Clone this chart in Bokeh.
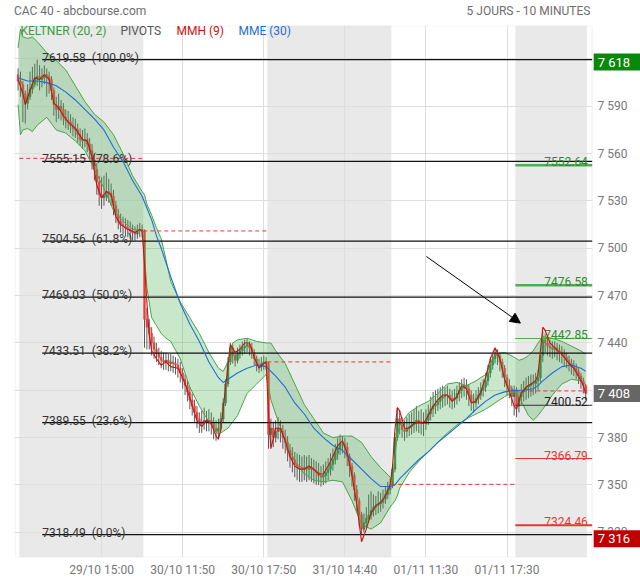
from bokeh.plotting import figure
from bokeh.models import (FixedTicker, BoxAnnotation, Label, Arrow, NormalHead,
                          Range1d, ColumnDataSource, LinearAxis)
from bokeh.core.properties import value
from bokeh.embed import file_html
from bokeh.resources import INLINE

FONT = "Roboto"

# ---------------- data (10-minute bars, index = bar number) ----------------
first_open = 7610
closes = [
    7606, 7604, 7598, 7592, 7596, 7601, 7604, 7608, 7609, 7607,
    7608, 7610, 7609, 7607, 7600, 7591, 7588, 7590, 7588, 7583,
    7581, 7580, 7578, 7576, 7575, 7572, 7569, 7568, 7569, 7566,
    7562, 7556, 7550, 7542, 7534, 7532, 7533, 7536, 7535, 7533,
    7527, 7521, 7517, 7515, 7514, 7513, 7512, 7511, 7510, 7509,
    7511, 7512, 7511,
    7455, 7450, 7446, 7440, 7436, 7433, 7431, 7429, 7428, 7429,
    7427, 7428, 7427, 7426, 7424, 7421, 7417, 7413, 7409, 7404,
    7400, 7396, 7392, 7389, 7390, 7391, 7390, 7391, 7389, 7386,
    7384, 7386, 7392, 7402, 7414, 7428, 7437, 7432, 7429, 7433,
    7435, 7437, 7438, 7439, 7437, 7434, 7430, 7426, 7425, 7427,
    7428, 7427,
    7382, 7386, 7380, 7384, 7386, 7384, 7380, 7377, 7372, 7368,
    7366, 7363, 7362, 7361, 7360, 7361, 7360, 7361, 7360, 7359,
    7358, 7356, 7355, 7356, 7358, 7360, 7363, 7366, 7370, 7373,
    7376, 7376, 7374, 7368, 7362, 7356, 7347, 7340, 7331, 7322,
    7326, 7329, 7331, 7334, 7336, 7337, 7338, 7339, 7341, 7344,
    7347, 7350,
    7360, 7380, 7392, 7388, 7385, 7384, 7386, 7387, 7388, 7389,
    7391, 7389, 7390, 7389, 7391, 7395, 7398, 7400, 7401, 7403,
    7405, 7406, 7407, 7407, 7405, 7404, 7405, 7408, 7410, 7412,
    7413, 7411, 7407, 7403, 7402, 7405, 7407, 7410, 7412, 7416,
    7421, 7426, 7430, 7433, 7432, 7428, 7424, 7418, 7413, 7411,
    7406, 7410,
    7400, 7406, 7409, 7410, 7412, 7413, 7414, 7414, 7416, 7418,
    7432, 7442, 7440, 7438, 7437, 7436, 7437, 7435, 7434, 7433,
    7431, 7429, 7427, 7425, 7424, 7422, 7419, 7416, 7413, 7408,
]
highs = [
    7614, 7612, 7606, 7600, 7604, 7612, 7615, 7617, 7619.6, 7616,
    7614, 7616, 7614, 7612, 7609, 7602, 7596, 7598, 7594, 7592,
    7588, 7587, 7585, 7583, 7582, 7579, 7576, 7575, 7576, 7573,
    7570, 7566, 7560, 7554, 7546, 7545, 7546, 7548, 7544, 7541,
    7537, 7530, 7525, 7522, 7520, 7519, 7518, 7517, 7515, 7514,
    7515, 7516, 7515,
    7512, 7462, 7455, 7450, 7444, 7440, 7437, 7435, 7434, 7434,
    7433, 7433, 7432, 7431, 7430, 7428, 7424, 7420, 7416, 7412,
    7408, 7404, 7400, 7396, 7397, 7399, 7397, 7398, 7396, 7393,
    7391, 7392, 7396, 7405, 7417, 7431, 7440, 7439, 7435, 7437,
    7439, 7441, 7442, 7443, 7441, 7440, 7436, 7432, 7430, 7431,
    7432, 7431,
    7428, 7392, 7390, 7391, 7393, 7391, 7388, 7385, 7381, 7376,
    7374, 7371, 7370, 7369, 7368, 7369, 7368, 7369, 7367, 7366,
    7365, 7364, 7362, 7363, 7365, 7367, 7370, 7373, 7376, 7380,
    7382, 7381, 7380, 7377, 7370, 7364, 7358, 7350, 7342, 7333,
    7332, 7336, 7344, 7346, 7344, 7343, 7346, 7345, 7347, 7349,
    7352, 7354,
    7363, 7383, 7399, 7397, 7393, 7391, 7393, 7395, 7396, 7398,
    7400, 7397, 7398, 7396, 7398, 7401, 7406, 7409, 7410, 7411,
    7412, 7413, 7412, 7413, 7411, 7410, 7411, 7413, 7415, 7417,
    7418, 7417, 7414, 7410, 7408, 7410, 7412, 7415, 7417, 7421,
    7426, 7431, 7434, 7436, 7436, 7434, 7430, 7426, 7420, 7417,
    7413, 7413,
    7412, 7410, 7414, 7416, 7418, 7419, 7420, 7420, 7421, 7423,
    7435, 7447, 7446, 7444, 7442, 7441, 7441, 7440, 7439, 7438,
    7436, 7434, 7432, 7430, 7429, 7427, 7424, 7421, 7418, 7414,
]
lows = [
    7600, 7596, 7580, 7579, 7588, 7594, 7598, 7602, 7603, 7600,
    7602, 7604, 7596, 7598, 7594, 7584, 7580, 7582, 7581, 7578,
    7576, 7575, 7573, 7571, 7570, 7567, 7565, 7563, 7564, 7561,
    7557, 7550, 7543, 7534, 7527, 7525, 7527, 7530, 7529, 7527,
    7521, 7516, 7512, 7510, 7509, 7508, 7507, 7506, 7505, 7505,
    7506, 7507, 7507,
    7437, 7436, 7436, 7432, 7430, 7428, 7426, 7424, 7423, 7423,
    7422, 7422, 7421, 7420, 7418, 7415, 7411, 7407, 7403, 7398,
    7394, 7390, 7386, 7383, 7383, 7385, 7384, 7384, 7382, 7379,
    7378, 7379, 7384, 7390, 7400, 7412, 7426, 7427, 7425, 7427,
    7430, 7432, 7433, 7434, 7432, 7430, 7426, 7422, 7421, 7422,
    7423, 7423,
    7373, 7376, 7374, 7377, 7379, 7377, 7373, 7370, 7365, 7361,
    7358, 7355, 7353, 7352, 7352, 7353, 7352, 7353, 7352, 7351,
    7350, 7350, 7349, 7350, 7351, 7353, 7356, 7359, 7363, 7366,
    7369, 7370, 7367, 7362, 7355, 7349, 7340, 7333, 7324, 7318.5,
    7320, 7323, 7326, 7328, 7330, 7331, 7332, 7333, 7335, 7338,
    7341, 7344,
    7348, 7358, 7378, 7382, 7380, 7378, 7380, 7381, 7382, 7383,
    7384, 7383, 7382, 7381, 7385, 7388, 7391, 7393, 7395, 7397,
    7398, 7399, 7400, 7401, 7399, 7398, 7399, 7401, 7403, 7405,
    7406, 7404, 7400, 7397, 7396, 7399, 7401, 7404, 7406, 7409,
    7413, 7418, 7423, 7427, 7426, 7422, 7418, 7412, 7407, 7405,
    7400, 7394,
    7393, 7396, 7401, 7403, 7404, 7405, 7406, 7407, 7408, 7410,
    7415, 7428, 7434, 7432, 7431, 7430, 7431, 7429, 7428, 7427,
    7425, 7424, 7422, 7420, 7419, 7417, 7414, 7411, 7408, 7404,
]

# Keltner (20, 2) channel
kelt_x = [0, 1, 2, 4, 6, 8, 12, 16, 20, 24, 28, 32, 36, 40, 44, 48, 52, 53, 54, 56,
          58, 60, 62, 64, 68, 72, 76, 80, 84, 86, 88, 90, 92, 96, 100, 104, 105, 106, 108, 112,
          116, 120, 124, 128, 132, 136, 140, 144, 148, 152, 156, 157, 158, 159, 160, 164, 168, 172, 176, 180,
          184, 188, 192, 196, 200, 204, 208, 210, 212, 214, 216, 218, 220, 224, 228, 232, 236, 238]
kelt_up = [7627, 7639, 7634, 7633, 7634, 7631, 7624, 7619, 7613, 7603, 7593, 7585, 7580, 7572, 7560, 7546, 7536, 7534, 7528, 7521,
           7513, 7506, 7493, 7479, 7466, 7456, 7446, 7434, 7424, 7422, 7428, 7440, 7442, 7443, 7441, 7440, 7440, 7440, 7435, 7427,
           7414, 7401, 7392, 7383, 7380, 7381, 7381, 7377, 7368, 7361, 7355, 7353, 7368, 7382, 7388, 7396, 7400, 7403, 7408, 7414,
           7415, 7413, 7416, 7420, 7433, 7434, 7431, 7429, 7430, 7432, 7435, 7440, 7444, 7443, 7441, 7438, 7435, 7433]
kelt_lo = [7591, 7572, 7575, 7576, 7574, 7578, 7583, 7575, 7573, 7568, 7562, 7550, 7538, 7524, 7517, 7512, 7511, 7495, 7475, 7456,
           7451, 7446, 7443, 7441, 7430, 7412, 7400, 7390, 7382, 7384, 7386, 7390, 7394, 7408, 7414, 7420, 7412, 7404, 7395, 7378,
           7365, 7357, 7353, 7352, 7353, 7352, 7340, 7325, 7322, 7326, 7336, 7338, 7340, 7343, 7348, 7358, 7365, 7371, 7377, 7383,
           7388, 7392, 7395, 7398, 7402, 7406, 7409, 7406, 7400, 7394, 7391, 7394, 7398, 7407, 7414, 7417, 7416, 7414]

# MME (30)
mme_x = [0, 4, 8, 12, 16, 20, 24, 28, 32, 36, 40, 44, 48, 52, 56, 58, 60, 64, 68, 72,
         76, 80, 84, 86, 88, 92, 96, 100, 104, 108, 112, 116, 120, 124, 128, 132, 136, 140, 144, 148,
         152, 156, 158, 160, 164, 168, 172, 176, 180, 184, 188, 192, 196, 200, 204, 208, 212, 216, 218, 220,
         224, 228, 232, 236, 238]
mme_y = [7608, 7606, 7606, 7605, 7603, 7599, 7594, 7588, 7582, 7575, 7564, 7555, 7543, 7533, 7518, 7508, 7500, 7482, 7465, 7452,
         7441, 7428, 7418, 7415, 7417, 7421, 7424, 7426, 7425, 7419, 7412, 7402, 7395, 7386, 7380, 7375, 7372, 7366, 7360, 7354,
         7349, 7349, 7350, 7354, 7360, 7366, 7371, 7377, 7382, 7387, 7392, 7398, 7403, 7407, 7409, 7410, 7410, 7411, 7413, 7416,
         7421, 7425, 7426, 7424, 7422]

# MMH (9)
mmh_x = [0, 2, 3, 5, 7, 9, 11, 13, 15, 17, 19, 21, 24, 27, 29, 31, 33, 35, 37, 39,
         41, 43, 46, 49, 51, 52, 53, 54, 55, 56, 58, 60, 62, 64, 67, 69, 71, 73, 75, 77,
         79, 81, 83, 84, 85, 87, 89, 91, 93, 95, 97, 99, 101, 103, 104, 105, 106, 108, 110, 112,
         114, 116, 118, 120, 122, 124, 126, 128, 130, 132, 134, 136, 138, 140, 142, 144, 146, 148, 150, 152,
         154, 156, 157, 158, 159, 160, 162, 164, 166, 168, 170, 172, 174, 176, 178, 180, 182, 184, 186, 188,
         190, 192, 194, 196, 198, 200, 202, 204, 206, 208, 209, 211, 213, 215, 217, 218, 219, 220, 221, 223,
         225, 227, 229, 231, 233, 235, 237, 238]
mmh_y = [7607, 7598, 7591, 7600, 7608, 7607, 7610, 7607, 7592, 7589, 7584, 7580, 7576, 7569, 7568, 7558, 7540, 7532, 7536, 7534,
         7520, 7515, 7512, 7510, 7512, 7511, 7490, 7466, 7445, 7435, 7430, 7426, 7428, 7425, 7424, 7418, 7410, 7400, 7391, 7387,
         7391, 7389, 7381, 7379, 7385, 7412, 7439, 7434, 7436, 7440, 7440, 7431, 7424, 7427, 7428, 7395, 7373, 7386, 7386, 7378,
         7368, 7362, 7360, 7360, 7362, 7360, 7357, 7357, 7362, 7368, 7375, 7378, 7370, 7356, 7338, 7314, 7322, 7332, 7337, 7339,
         7343, 7350, 7362, 7385, 7399, 7397, 7386, 7386, 7389, 7390, 7389, 7394, 7400, 7404, 7407, 7407, 7403, 7406, 7413, 7411,
         7402, 7403, 7409, 7418, 7430, 7437, 7430, 7417, 7409, 7400, 7398, 7408, 7412, 7414, 7416, 7420, 7435, 7450, 7448, 7440,
         7437, 7434, 7431, 7427, 7424, 7419, 7413, 7408]

# sessions (first bar of each day) and pivots
day_starts = [1, 53, 105, 157, 209]
grey_days = [0, 2, 4]
day_pivot = [7557.0, 7511.0, 7428.0, 7350.4, 7409.6]

fib_levels = [7619.58, 7555.15, 7504.56, 7469.03, 7433.51, 7389.55, 7318.49]
fib_pcts = ["100.0%", "78.6%", "61.8%", "50.0%", "38.2%", "23.6%", "0.0%"]

piv_levels = [7552.64, 7476.58, 7442.85, 7400.52, 7366.79, 7324.46]
piv_colors = ["#4caf50", "#4caf50", "#4caf50", "#333333", "#e53935", "#e53935"]
piv_text_colors = ["#2e8b2e", "#2e8b2e", "#2e8b2e", "#222222", "#e53935", "#e53935"]
piv_widths = [2.5, 2.5, 1, 1, 1, 2]

x_tick_pos = [35, 69, 103, 137, 171, 205]
x_tick_labels = ["29/10 15:00", "30/10 11:50", "30/10 17:50", "31/10 14:40", "01/11 11:30", "01/11 17:30"]
y_ticks = [7320, 7350, 7380, 7410, 7440, 7470, 7500, 7530, 7560, 7590, 7620]

last_price = 7408
period_high = 7618
period_low = 7316

header_left = "CAC 40 - abcbourse.com"
header_right = "5 JOURS - 10 MINUTES"

# ---------------- figure ----------------
XL, XR = -1.51, 260.97          # full frame (extends under the right price-tag column)
X0, X1 = -1.38, 240.71          # visible plot area
Y0, Y1 = 7304.05, 7641.2

p = figure(width=640, height=580, x_range=Range1d(XL, XR), y_range=Range1d(Y0, Y1),
           y_axis_location="right", toolbar_location=None, output_backend="svg",
           min_border_left=14, min_border_top=22, min_border_right=0, min_border_bottom=23,
           background_fill_color="white", border_fill_color="white",
           outline_line_color=None)

xt = FixedTicker(ticks=x_tick_pos)
yt = FixedTicker(ticks=y_ticks)
p.xaxis.ticker = xt
p.xgrid.ticker = xt
p.yaxis.ticker = yt
p.ygrid.ticker = yt
p.xaxis.major_label_overrides = {t: l for t, l in zip(x_tick_pos, x_tick_labels)}
p.yaxis.major_label_overrides = {t: f"{t // 1000} {t % 1000:03d}" for t in y_ticks}
for ax in (p.xaxis, p.yaxis):
    ax.axis_line_color = None
    ax.major_tick_line_color = None
    ax.minor_tick_line_color = None
    ax.major_tick_out = 0
    ax.minor_tick_out = 0
    ax.major_label_text_color = "#777777"
    ax.major_label_text_font = FONT
    ax.major_label_text_font_size = "12px"
p.xaxis.major_label_standoff = 5
p.yaxis.major_label_standoff = -43
p.xgrid.grid_line_color = "#dedede"
p.ygrid.grid_line_color = "#dedede"

# header line drawn as an axis above the frame
hdr_ticks = [26, 214]
top_ax = LinearAxis(ticker=FixedTicker(ticks=hdr_ticks),
                    major_label_overrides={hdr_ticks[0]: header_left, hdr_ticks[1]: header_right},
                    axis_line_color=None, major_tick_line_color=None, minor_tick_line_color=None,
                    major_tick_out=0, minor_tick_out=0, major_label_standoff=8,
                    major_label_text_color="#6e6e6e", major_label_text_font=FONT,
                    major_label_text_font_size="12px")
p.add_layout(top_ax, "above")

# grey session shading
bounds = [s - 0.5 for s in day_starts] + [len(closes) - 0.5]
for k in grey_days:
    p.add_layout(BoxAnnotation(left=bounds[k], right=bounds[k + 1], fill_color="#e9e9e9",
                               fill_alpha=1.0, line_color=None, level="image"))
# blank column under the price tags (hides grid lines there)
p.add_layout(BoxAnnotation(left=X1, fill_color="white", fill_alpha=1.0, line_color=None, level="underlay"))
# plot outline
p.add_layout(BoxAnnotation(left=X0 + 0.21, right=X1, top=Y1 - 0.32, bottom=Y0 + 0.32,
                           fill_color=None, line_color="#d4d4d4", line_width=1, level="underlay"))

# candles
n = len(closes)
opens = [first_open] + closes[:-1]
up = [c >= o for o, c in zip(opens, closes)]
src = ColumnDataSource(dict(
    x=list(range(n)), h=highs, l=lows,
    top=[max(o, c) for o, c in zip(opens, closes)],
    bot=[min(o, c) for o, c in zip(opens, closes)],
    col=["#23874a" if u else "#e8403c" for u in up]))
p.segment(x0="x", y0="l", x1="x", y1="h", source=src, line_color="#5a5a5a", line_width=1)
p.vbar(x="x", width=0.8, top="top", bottom="bot", source=src,
       fill_color="col", line_color="col", line_width=0.5)

# Keltner channel
p.varea(x=kelt_x, y1=kelt_lo, y2=kelt_up, fill_color="#4caf50", fill_alpha=0.3)
p.line(kelt_x, kelt_up, line_color="#48a548", line_width=1)
p.line(kelt_x, kelt_lo, line_color="#48a548", line_width=1)

# daily pivot (dashed)
p.segment(x0=[s - 0.5 for s in day_starts], x1=bounds[1:], y0=day_pivot, y1=day_pivot,
          line_color="#e53935", line_dash="4 3", line_width=1)

# Fibonacci retracements
fib_x0 = 10.1
p.segment(x0=[fib_x0] * len(fib_levels), x1=[X1] * len(fib_levels), y0=fib_levels, y1=fib_levels,
          line_color="#111111", line_width=1.3)
p.text(x=[fib_x0] * len(fib_levels), y=fib_levels,
       text=[f"{v:.2f}\u00a0 ({pc})" for v, pc in zip(fib_levels, fib_pcts)],
       text_font=value(FONT), text_font_size="12px", text_color="#333333",
       text_baseline="alphabetic", text_align="left", y_offset=-2)

# pivot levels of the last session
last_start = day_starts[-1] - 0.5
p.segment(x0=[last_start] * len(piv_levels), x1=[X1] * len(piv_levels), y0=piv_levels, y1=piv_levels,
          line_color=piv_colors, line_width=piv_widths)
p.text(x=[238.9] * len(piv_levels), y=piv_levels, text=[f"{v:.2f}" for v in piv_levels],
       text_font=value(FONT), text_font_size="12px", text_color=piv_text_colors,
       text_baseline="alphabetic", text_align="right", y_offset=-3.5)

# moving averages
p.line(mme_x, mme_y, line_color="#1f6fd6", line_width=1.1)
p.line(mmh_x, mmh_y, line_color="#cc1111", line_width=1.1)

# arrow
p.add_layout(Arrow(end=NormalHead(size=10, fill_color="black", line_color="black", line_width=1),
                   x_start=171.2, y_start=7494.8, x_end=210.6, y_end=7452.6,
                   line_color="black", line_width=1))

# legend texts
for xx, txt, colr in [(1.0, "KELTNER (20, 2)", "#3c9c3c"), (42.9, "PIVOTS", "#555555"),
                      (66.4, "MMH (9)", "#cc1111"), (92.4, "MME (30)", "#1f6fd6")]:
    p.add_layout(Label(x=xx, y=7637.5, text=txt, text_color=colr, text_font=FONT,
                       text_font_size="12px", text_baseline="middle", text_align="left"))

# price tags on the right axis
for val, bg in [(period_high, "#0b880b"), (last_price, "#666666"), (period_low, "#c00000")]:
    p.add_layout(Label(x=X1, y=val, x_offset=1.5, text=f"{val // 1000} {val % 1000:03d}",
                       text_color="white", text_font=FONT, text_font_size="13px",
                       text_baseline="middle", text_align="left",
                       background_fill_color=bg, padding=dict(left=4, right=16, top=1, bottom=1)))

open("out.html", "w").write(file_html(p, INLINE, title="CAC 40"))
